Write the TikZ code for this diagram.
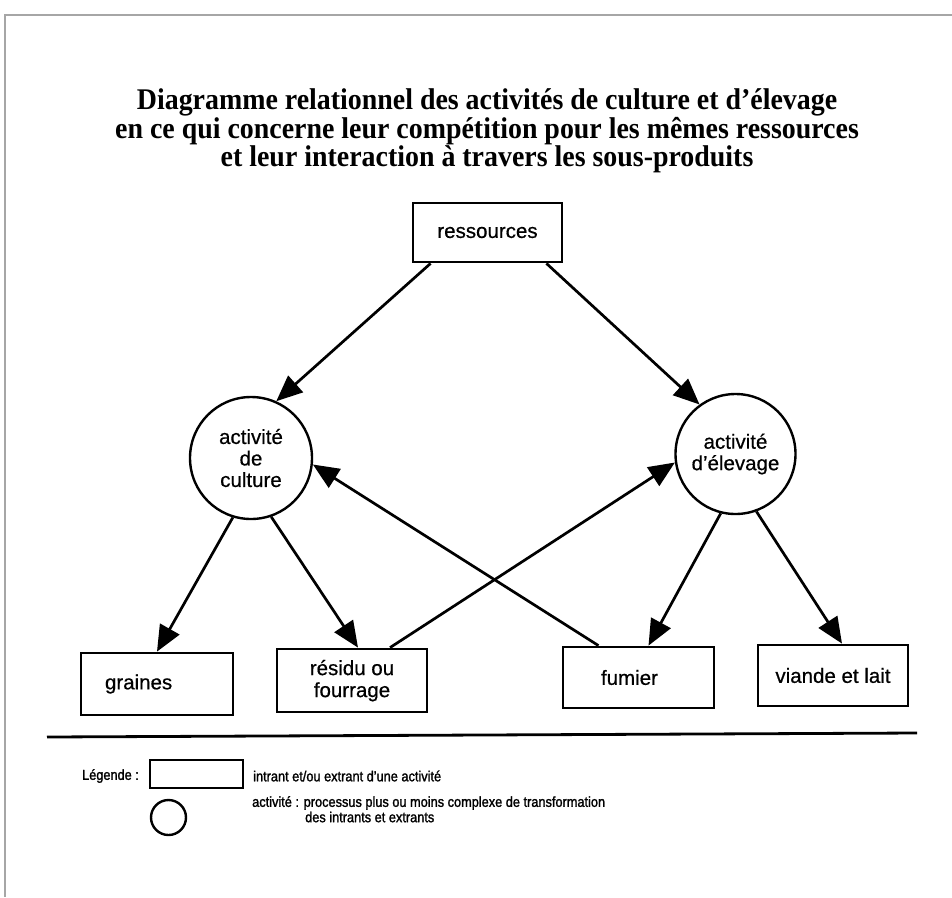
\documentclass[tikz,border=0pt]{standalone}
\usepackage{fontspec}
\setmainfont{Liberation Sans}
\newfontfamily\nodefont[FakeBold=0.6]{Liberation Sans}
\newfontfamily\legfont[FakeStretch=0.88,FakeBold=1.5]{Liberation Sans}
\newfontfamily\titlefont[FakeStretch=0.93]{Liberation Serif}
\usetikzlibrary{arrows.meta,calc}
\begin{document}
\begin{tikzpicture}[x=1pt,y=-1pt,
  box/.style={draw, line width=2.8pt, inner sep=0pt, align=center,
    font=\nodefont\fontsize{20.5}{22}\selectfont},
  act/.style={draw, circle, line width=2.4pt, inner sep=0pt, align=center,
    font=\nodefont\fontsize{20.5}{21.5}\selectfont},
  arr/.style={line width=2.7pt, -{Triangle[length=26pt,width=22pt]}},
  legtext/.style={inner sep=0pt, anchor=west, font=\legfont\fontsize{14.5}{15}\selectfont},
  titletext/.style={align=center, font=\titlefont\bfseries\fontsize{30}{26}\selectfont}
]
\useasboundingbox (0,0) rectangle (952,897);
% frame
\draw[gray!70, line width=1.3pt] (952,15) -- (5,15) -- (5,897);
% title
\node[titletext] (title) at (487,131) {Diagramme relationnel des activités de culture et d’élevage\\
en ce qui concerne leur compétition pour les mêmes ressources\\
et leur interaction à travers les sous-produits};
% nodes
\node[box, minimum width=149pt, minimum height=59pt] (res) at (487.5,232.5) {ressources};
\node[act, minimum size=122pt] (cult) at (251,458) {activité\\de\\culture};
\node[act, minimum size=120pt] (elev) at (735.5,454) {activité\\d’élevage};
\node[box, minimum height=62pt, text width=104pt, inner xsep=24pt, align=left] (gra) at (157,684) {graines};
\node[box, minimum width=150pt, minimum height=63pt] (resid) at (352,680.5) {\strut résidu ou\\fourrage};
\node[box, minimum height=61pt, text width=75pt, inner xsep=38pt, align=left] (fum) at (638.5,677.5) {fumier};
\node[box, minimum width=150pt, minimum height=61pt] (via) at (833,675.5) {viande et lait};
% connectors
\draw[arr] ($(res.south west)+(19,0)$) -- (cult.66);
\draw[arr] ($(res.south east)+(-17,0)$) -- (elev.126);
\draw[arr] (cult.253) -- (gra.north);
\draw[arr] (cult.289) -- ($(resid.north)+(6,0)$);
\draw[arr] ($(resid.north)+(38,0)$) -- (elev.188);
\draw[arr] ($(fum.north)+(-40,0)$) -- (cult.-6);
\draw[arr] (elev.256) -- ($(fum.north)+(10,0)$);
\draw[arr] (elev.290) -- ($(via.north)+(9,0)$);
% rule
\draw[line width=2.8pt] (47,737) -- (917,733);
% legend
\node[legtext, anchor=center] (leg) at (110.5,776) {Légende :};
\node[draw, line width=2.4pt, minimum width=93pt, minimum height=28pt, inner sep=0pt] (legbox) at (196.5,774) {};
\node[legtext] (legt1) at (253,776) {intrant et/ou extrant d’une activité};
\node[draw, circle, line width=2.4pt, minimum size=35pt, inner sep=0pt] (legcirc) at (168.5,817.5) {};
\node[legtext] (legt2) at (252,803) {activité : processus plus ou moins complexe de transformation};
\node[legtext] (legt3) at (305,817) {des intrants et extrants};
\end{tikzpicture}
\end{document}
